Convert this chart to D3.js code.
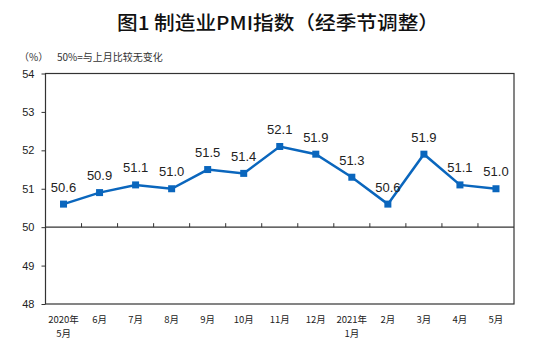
<!DOCTYPE html>
<html><head><meta charset="utf-8">
<script src="https://cdn.jsdelivr.net/npm/d3@7"></script>
<style>body{margin:0;background:#fff}svg{display:block}</style>
</head><body><svg id="c" width="544" height="342"></svg>
<script>
const categories = ["2020年|5月","6月","7月","8月","9月","10月","11月","12月","2021年|1月","2月","3月","4月","5月"];
const pmiValues = [50.6,50.9,51.1,51.0,51.5,51.4,52.1,51.9,51.3,50.6,51.9,51.1,51.0];
const yTicks = [48,49,50,51,52,53,54];
const titleText = "图1 制造业PMI指数（经季节调整）";
const unitText = "（%）";
const noteText = "50%=与上月比较无变化";

const svg = d3.select("#c");
const m = {l:45.5, r:514, t:73.5, b:304};
const x = d3.scaleBand().domain(categories).range([m.l, m.r]).padding(0);
const y = d3.scaleLinear().domain([48,54]).range([m.b, m.t]);
const cjk = "'Noto Sans CJK SC', sans-serif";

svg.append("text").attr("x",278).attr("y",30).attr("text-anchor","middle")
  .attr("font-family",cjk).attr("font-size",19).attr("font-weight","500").attr("fill","#111")
  .attr("textLength",322).attr("lengthAdjust","spacingAndGlyphs").text(titleText);
svg.append("text").attr("x",19).attr("y",61).attr("font-family",cjk).attr("font-size",10).attr("fill","#333").text(unitText);
svg.append("text").attr("x",57).attr("y",61).attr("font-family",cjk).attr("font-size",10).attr("fill","#333").text(noteText);

// border
svg.append("rect").attr("x",m.l).attr("y",m.t).attr("width",m.r-m.l).attr("height",m.b-m.t)
  .attr("fill","none").attr("stroke","#333").attr("stroke-width",1.2);

// y axis
const ya = svg.append("g").attr("transform",`translate(${m.l},0)`)
  .call(d3.axisLeft(y).tickValues(yTicks).tickSize(4).tickFormat(d3.format("d")));
ya.select(".domain").remove();
ya.selectAll("line").attr("stroke","#333");
ya.selectAll("text").attr("font-family","'Liberation Sans', Arial, sans-serif").attr("font-size",11).attr("fill","#222").attr("x",-11);

// 50 line with category ticks pointing up
svg.append("line").attr("x1",m.l).attr("x2",m.r).attr("y1",y(50)).attr("y2",y(50)).attr("stroke","#333").attr("stroke-width",1.2);
svg.append("g").selectAll("line").data(categories.slice(1)).join("line")
  .attr("x1",d=>x(d)).attr("x2",d=>x(d)).attr("y1",y(50)).attr("y2",y(50)-4).attr("stroke","#333");

// x labels (each line as its own text)
const xLines = [];
categories.forEach(d=>d.split("|").forEach((p,i)=>xLines.push({cat:d,text:p,line:i})));
svg.append("g").selectAll("text").data(xLines).join("text")
  .attr("x",d=>x(d.cat)+x.bandwidth()/2).attr("y",d=>323+d.line*14).attr("text-anchor","middle")
  .attr("font-family",cjk).attr("font-size",9.5).attr("fill","#222").text(d=>d.text);

// line
const cx = (d,i)=>x(categories[i])+x.bandwidth()/2;
svg.append("path").datum(pmiValues)
  .attr("d",d3.line().x(cx).y(d=>y(d)))
  .attr("fill","none").attr("stroke","#0a66bd").attr("stroke-width",2.5);
svg.append("g").selectAll("rect").data(pmiValues).join("rect")
  .attr("x",(d,i)=>cx(d,i)-3.5).attr("y",d=>y(d)-3.5).attr("width",7).attr("height",7).attr("fill","#0a66bd");
svg.append("g").selectAll("text").data(pmiValues).join("text")
  .attr("x",cx).attr("y",d=>y(d)-12.5).attr("text-anchor","middle")
  .attr("font-family","'Liberation Sans', Arial, sans-serif").attr("font-size",13).attr("fill","#222")
  .text(d=>d.toFixed(1));
</script></body></html>
